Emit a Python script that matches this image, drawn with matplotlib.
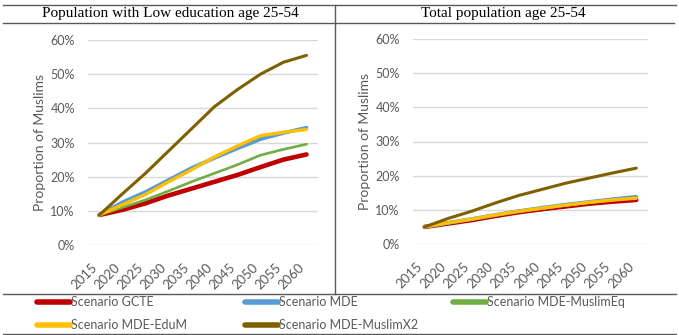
import matplotlib.pyplot as plt
from matplotlib.lines import Line2D
from matplotlib.ticker import PercentFormatter

years = [2015, 2020, 2025, 2030, 2035, 2040, 2045, 2050, 2055, 2060]
scenarios = ["Scenario GCTE", "Scenario MDE", "Scenario MDE-MuslimEq",
             "Scenario MDE-EduM", "Scenario MDE-MuslimX2"]

# proportion of Muslims, low education age 25-54
low_gcte = [0.088, 0.103, 0.122, 0.145, 0.165, 0.185, 0.205, 0.228, 0.25, 0.265]
low_mde = [0.088, 0.125, 0.155, 0.19, 0.225, 0.255, 0.283, 0.31, 0.328, 0.343]
low_muslimeq = [0.088, 0.11, 0.132, 0.158, 0.185, 0.21, 0.235, 0.263, 0.28, 0.295]
low_edum = [0.088, 0.118, 0.148, 0.185, 0.22, 0.258, 0.29, 0.32, 0.33, 0.338]
low_x2 = [0.088, 0.15, 0.21, 0.275, 0.34, 0.405, 0.455, 0.50, 0.535, 0.555]

# proportion of Muslims, total population age 25-54
tot_gcte = [0.05, 0.06, 0.07, 0.082, 0.093, 0.102, 0.11, 0.118, 0.124, 0.129]
tot_mde = [0.05, 0.062, 0.073, 0.085, 0.096, 0.106, 0.115, 0.123, 0.131, 0.138]
tot_muslimeq = [0.05, 0.061, 0.072, 0.084, 0.095, 0.104, 0.113, 0.121, 0.128, 0.135]
tot_edum = [0.05, 0.062, 0.073, 0.085, 0.096, 0.105, 0.114, 0.122, 0.129, 0.134]
tot_x2 = [0.05, 0.075, 0.096, 0.12, 0.142, 0.16, 0.178, 0.193, 0.208, 0.222]

colors = ["#C00000", "#5B9BD5", "#70AD47", "#FFC000", "#7F6000"]
widths = [3.3, 2.8, 1.9, 2.4, 2.2]

W, H = 679, 335
fig = plt.figure(figsize=(W / 100, H / 100), dpi=100)


def px_axes(x0, y0, x1, y1):
    return fig.add_axes([x0 / W, 1 - y1 / H, (x1 - x0) / W, (y1 - y0) / H])


def draw_panel(ax, series):
    idx = list(range(len(years)))
    for vals, c, lw in zip(series, colors, widths):
        ax.plot(idx, vals, color=c, lw=lw, solid_capstyle="round",
                solid_joinstyle="round")
    ax.set_xlim(-0.5, len(years) - 0.5)
    ax.set_ylim(0, 0.6)
    ax.set_yticks([0, 0.1, 0.2, 0.3, 0.4, 0.5, 0.6])
    ax.yaxis.set_major_formatter(PercentFormatter(1.0, decimals=0))
    ax.set_xticks(idx)
    ax.set_xticklabels([str(y) for y in years], rotation=45, ha="right",
                       va="top", fontsize=9.5, color="#595959", family="Lato")
    for lab in ax.get_yticklabels():
        lab.set_family("Lato")
        lab.set_fontsize(9)
        lab.set_color("#595959")
    ax.tick_params(length=0)
    ax.tick_params(axis="x", pad=12)
    ax.tick_params(axis="y", pad=9.5)
    ax.grid(axis="y", color="#D9D9D9", lw=1)
    ax.set_axisbelow(True)
    for s in ax.spines.values():
        s.set_visible(False)
    ax.set_ylabel("Proportion of Muslims", family="Lato", fontsize=10,
                  color="#595959", labelpad=3)


ax1 = px_axes(88, 40, 318, 245)
draw_panel(ax1, [low_gcte, low_mde, low_muslimeq, low_edum, low_x2])
ax2 = px_axes(413, 39, 648, 244)
draw_panel(ax2, [tot_gcte, tot_mde, tot_muslimeq, tot_edum, tot_x2])

# table frame lines
frame = "#595959"
for (x0, x1, y) in [(3, 676, 5), (3, 674, 23), (3, 676, 294), (3, 676, 334)]:
    fig.add_artist(Line2D([x0 / W, x1 / W], [1 - y / H, 1 - y / H],
                          color=frame, lw=1))
fig.add_artist(Line2D([335 / W, 335 / W], [1 - 5 / H, 1 - 294 / H],
                      color=frame, lw=1))

fig.text(170 / W, 1 - 14 / H, "Population with Low education age 25-54",
         ha="center", va="center", family="Liberation Serif", fontsize=11)
fig.text(503 / W, 1 - 14 / H, "Total population age 25-54",
         ha="center", va="center", family="Liberation Serif", fontsize=11)

# legend: three fixed-width columns like the Excel legend
columns = [([0, 3], 34), ([1, 4], 242), ([2], 450)]
for items, x0 in columns:
    hs = [Line2D([], [], color=colors[i], lw=4, solid_capstyle="round")
          for i in items]
    fig.legend(hs, [scenarios[i] for i in items], loc="upper left",
               bbox_to_anchor=(x0 / W, 1 - 294 / H),
               frameon=False, handlelength=2.7, handletextpad=0.05,
               labelspacing=0.85, borderaxespad=0, borderpad=0.2,
               prop={"family": "Lato", "size": 9}, labelcolor="#595959")

fig.savefig("out.png", dpi=100)
